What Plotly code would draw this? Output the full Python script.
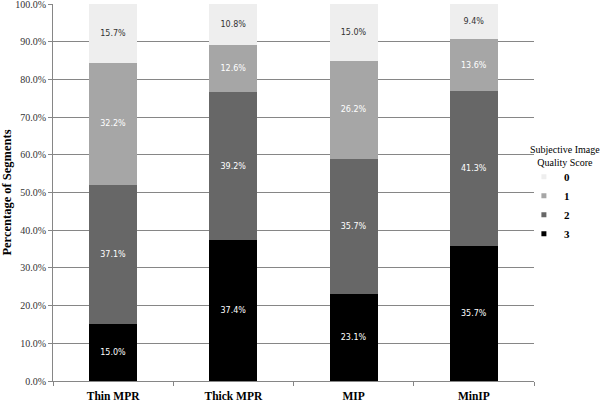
import plotly.graph_objects as go

categories = ["Thin MPR", "Thick MPR", "MIP", "MinIP"]
score_3 = [15.0, 37.4, 23.1, 35.7]
score_2 = [37.1, 39.2, 35.7, 41.3]
score_1 = [32.2, 12.6, 26.2, 13.6]
score_0 = [15.7, 10.8, 15.0, 9.4]
y_ticks = [0, 10, 20, 30, 40, 50, 60, 70, 80, 90, 100]

series = [
    ("3", score_3, "#000000", "#ffffff"),
    ("2", score_2, "#676767", "#ffffff"),
    ("1", score_1, "#a6a6a6", "#ffffff"),
    ("0", score_0, "#eeeeee", "#333333"),
]

fig = go.Figure()
for name, vals, color, tcolor in series:
    fig.add_trace(go.Bar(
        x=categories, y=vals, name=name, marker=dict(color=color, line=dict(width=0)),
        text=[f"{v:.1f}%" for v in vals], textposition="inside",
        insidetextanchor="middle", textangle=0, constraintext="none",
        textfont=dict(family="DejaVu Sans", size=8, color=tcolor),
        showlegend=False, hoverinfo="skip",
    ))

# legend entries (small square markers), order 0..3 top to bottom
for name, vals, color, tcolor in reversed(series):
    fig.add_trace(go.Scatter(
        x=[None], y=[None], mode="markers", name=name,
        marker=dict(symbol="square", size=5, color=color),
        showlegend=True, hoverinfo="skip",
    ))

fig.update_layout(
    width=601, height=401,
    margin=dict(l=53, r=67, t=4, b=20, autoexpand=False),
    barmode="stack", bargap=0.6,
    plot_bgcolor="white", paper_bgcolor="white",
    font=dict(family="Liberation Serif", color="#000000"),
    legend=dict(
        x=0.979, xanchor="left", y=0.58, yanchor="top",
        font=dict(family="Liberation Serif", size=11, color="#000000", weight="bold"),
        traceorder="normal", itemwidth=30, bgcolor="rgba(0,0,0,0)",
        tracegroupgap=0,
    ),
    annotations=[dict(
        text="Subjective Image<br>Quality Score", xref="paper", yref="paper",
        x=1.0, xshift=31, y=0.56, xanchor="center", yanchor="bottom", showarrow=False,
        font=dict(family="Liberation Serif", size=10, color="#000000"),
    )],
    showlegend=True,
)

fig.update_xaxes(
    type="category", range=[-0.5, 3.5], showline=True, linecolor="#868686", linewidth=1,
    ticks="outside", tickson="boundaries", ticklen=4, tickcolor="#868686",
    tickfont=dict(family="Liberation Serif", size=11.5, color="#000000", weight="bold"),
    ticklabelstandoff=4,
    showgrid=False, fixedrange=True, automargin=False,
)
fig.update_yaxes(
    range=[0, 100], tickvals=y_ticks, ticktext=[f"{v:.1f}%" for v in y_ticks],
    showgrid=True, gridcolor="#868686", gridwidth=1,
    showline=True, linecolor="#868686", linewidth=1,
    ticks="outside", ticklen=4, tickcolor="#868686",
    tickfont=dict(family="Liberation Serif", size=10, color="#333333"),
    ticklabeloverflow="allow",
    title=dict(text="Percentage of Segments", standoff=6,
               font=dict(family="Liberation Serif", size=12.5, color="#000000", weight="bold")),
    zeroline=False, fixedrange=True, automargin=False,
)

fig.write_html("out.html", config={"displayModeBar": False},
               post_script="document.body.style.margin='0';")
